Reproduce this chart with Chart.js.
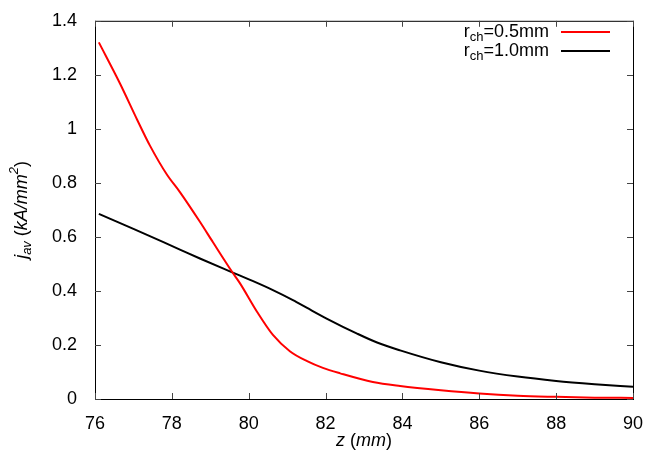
<!DOCTYPE html>
<html lang="en">
<head>
  <meta charset="UTF-8">
  <title>j_av vs z</title>
  <style>
    html, body { margin: 0; padding: 0; background: #fff; }
    .chartBox { width: 645px; height: 451px; }
  </style>
</head>
<body>
  <div class="chartBox">
    <canvas id="grafico" width="645" height="451"></canvas>
  </div>

  <script src="https://cdn.jsdelivr.net/npm/chart.js"></script>
  <script>
    // values
    const zRed = [76.1, 76.65, 77.1, 77.43, 77.87, 78.21, 78.73, 79.07, 79.57, 79.77, 80.22, 80.63, 81.07, 81.52, 81.93, 82.38, 83.23, 83.94, 85, 86, 87, 88, 89, 90];
    const jRed = [1.32, 1.168, 1.033, 0.938, 0.831, 0.766, 0.656, 0.58, 0.47, 0.429, 0.322, 0.237, 0.177, 0.14, 0.115, 0.095, 0.063, 0.048, 0.032, 0.02, 0.012, 0.008, 0.005, 0.004];

    const zBlack = [76.1, 77, 78.21, 78.73, 79.57, 80.1, 80.63, 81.15, 81.52, 82.04, 82.82, 83.34, 83.94, 85, 86, 87, 88, 89, 90];
    const jBlack = [0.685, 0.63, 0.553, 0.52, 0.469, 0.437, 0.403, 0.366, 0.337, 0.297, 0.242, 0.209, 0.18, 0.136, 0.105, 0.083, 0.067, 0.055, 0.045];

    const legendLabels = [['r', 'ch', '=0.5mm'], ['r', 'ch', '=1.0mm']];
    const colors = ['#ff0000', '#000000'];

    const FONT = '"Liberation Sans", Arial, sans-serif';

    function pontos(xs, ys) {
      return xs.map((x, i) => ({ x: x, y: ys[i] }));
    }

    // draws text with italic / sub / sup parts, centred on x
    function textoRico(ctx, partes, x, y) {
      let total = 0;
      partes.forEach(p => {
        const tam = (p.sub || p.sup) ? 13 : 18;
        ctx.font = (p.it ? 'italic ' : '') + tam + 'px ' + FONT;
        p.w = ctx.measureText(p.t).width;
        p.f = ctx.font;
        total += p.w;
      });
      let cx = x - total / 2;
      partes.forEach(p => {
        ctx.font = p.f;
        let dy = 0;
        if (p.sub) dy = 5;
        if (p.sup) dy = -8;
        ctx.fillText(p.t, cx, y + dy);
        cx += p.w;
      });
    }

    const moldura = {
      id: 'moldura',
      afterDraw(chart) {
        const ctx = chart.ctx;
        const a = chart.chartArea;
        const sx = chart.scales.x, sy = chart.scales.y;
        ctx.save();
        ctx.strokeStyle = '#000';
        ctx.lineWidth = 1;
        ctx.strokeRect(a.left + 0.5, a.top + 0.5, a.right - a.left, a.bottom - a.top);

        // inward ticks on all four sides
        ctx.strokeStyle = '#444';
        ctx.beginPath();
        sx.ticks.forEach(t => {
          const px = Math.round(sx.getPixelForValue(t.value)) + 0.5;
          ctx.moveTo(px, a.bottom); ctx.lineTo(px, a.bottom - 6);
          ctx.moveTo(px, a.top); ctx.lineTo(px, a.top + 6);
        });
        sy.ticks.forEach(t => {
          const py = Math.round(sy.getPixelForValue(t.value)) + 0.5;
          ctx.moveTo(a.left, py); ctx.lineTo(a.left + 6, py);
          ctx.moveTo(a.right, py); ctx.lineTo(a.right - 6, py);
        });
        ctx.stroke();

        ctx.fillStyle = '#000';
        ctx.textBaseline = 'middle';
        ctx.textAlign = 'left';

        // x title
        textoRico(ctx, [
          { t: 'z', it: true }, { t: ' (' }, { t: 'mm', it: true }, { t: ')' }
        ], (a.left + a.right) / 2, 441);

        // y title
        ctx.save();
        ctx.translate(22, (a.top + a.bottom) / 2);
        ctx.rotate(-Math.PI / 2);
        textoRico(ctx, [
          { t: 'j', it: true }, { t: 'av', it: true, sub: true }, { t: ' (' },
          { t: 'kA/mm', it: true }, { t: '2', it: true, sup: true }, { t: ')' }
        ], 0, 0);
        ctx.restore();

        // legend
        legendLabels.forEach((lb, i) => {
          const y = 32 + i * 19;
          const partes = [{ t: lb[0] }, { t: lb[1], sub: true }, { t: lb[2] }];
          let total = 0;
          partes.forEach(p => {
            ctx.font = ((p.sub) ? 13 : 18) + 'px ' + FONT;
            p.w = ctx.measureText(p.t).width; p.f = ctx.font; total += p.w;
          });
          let cx = 549 - total;
          partes.forEach(p => {
            ctx.font = p.f;
            ctx.fillText(p.t, cx, y + (p.sub ? 5 : 0));
            cx += p.w;
          });
          ctx.strokeStyle = colors[i];
          ctx.lineWidth = 2;
          ctx.beginPath();
          ctx.moveTo(561, y); ctx.lineTo(610, y);
          ctx.stroke();
        });
        ctx.restore();
      }
    };

    const grafico = new Chart(document.getElementById('grafico'), {
      type: 'line',
      data: {
        datasets: [
          {
            label: 'r_ch=0.5mm',
            data: pontos(zRed, jRed),
            borderColor: colors[0],
            borderWidth: 2,
            pointRadius: 0,
            cubicInterpolationMode: 'monotone'
          },
          {
            label: 'r_ch=1.0mm',
            data: pontos(zBlack, jBlack),
            borderColor: colors[1],
            borderWidth: 2,
            pointRadius: 0,
            cubicInterpolationMode: 'monotone'
          }
        ]
      },
      options: {
        responsive: false,
        animation: false,
        devicePixelRatio: 1,
        layout: { padding: { top: 17, right: 12, left: 0, bottom: 0 } },
        plugins: { legend: { display: false }, tooltip: { enabled: false } },
        scales: {
          x: {
            type: 'linear',
            min: 76, max: 90,
            grid: { display: false },
            border: { display: false },
            ticks: {
              stepSize: 2, color: '#000', padding: 6,
              font: { family: FONT, size: 18 },
              maxRotation: 0
            },
            afterFit(s) { s.height = 52; s.paddingLeft = 0; s.paddingRight = 0; }
          },
          y: {
            min: 0, max: 1.4,
            grid: { display: false },
            border: { display: false },
            ticks: {
              stepSize: 0.2, color: '#000', padding: 10,
              font: { family: FONT, size: 18 },
              callback: v => String(Number(v.toFixed(1)))
            },
            afterFit(s) { s.width = 95; }
          }
        }
      },
      plugins: [moldura]
    });
  </script>
</body>
</html>
